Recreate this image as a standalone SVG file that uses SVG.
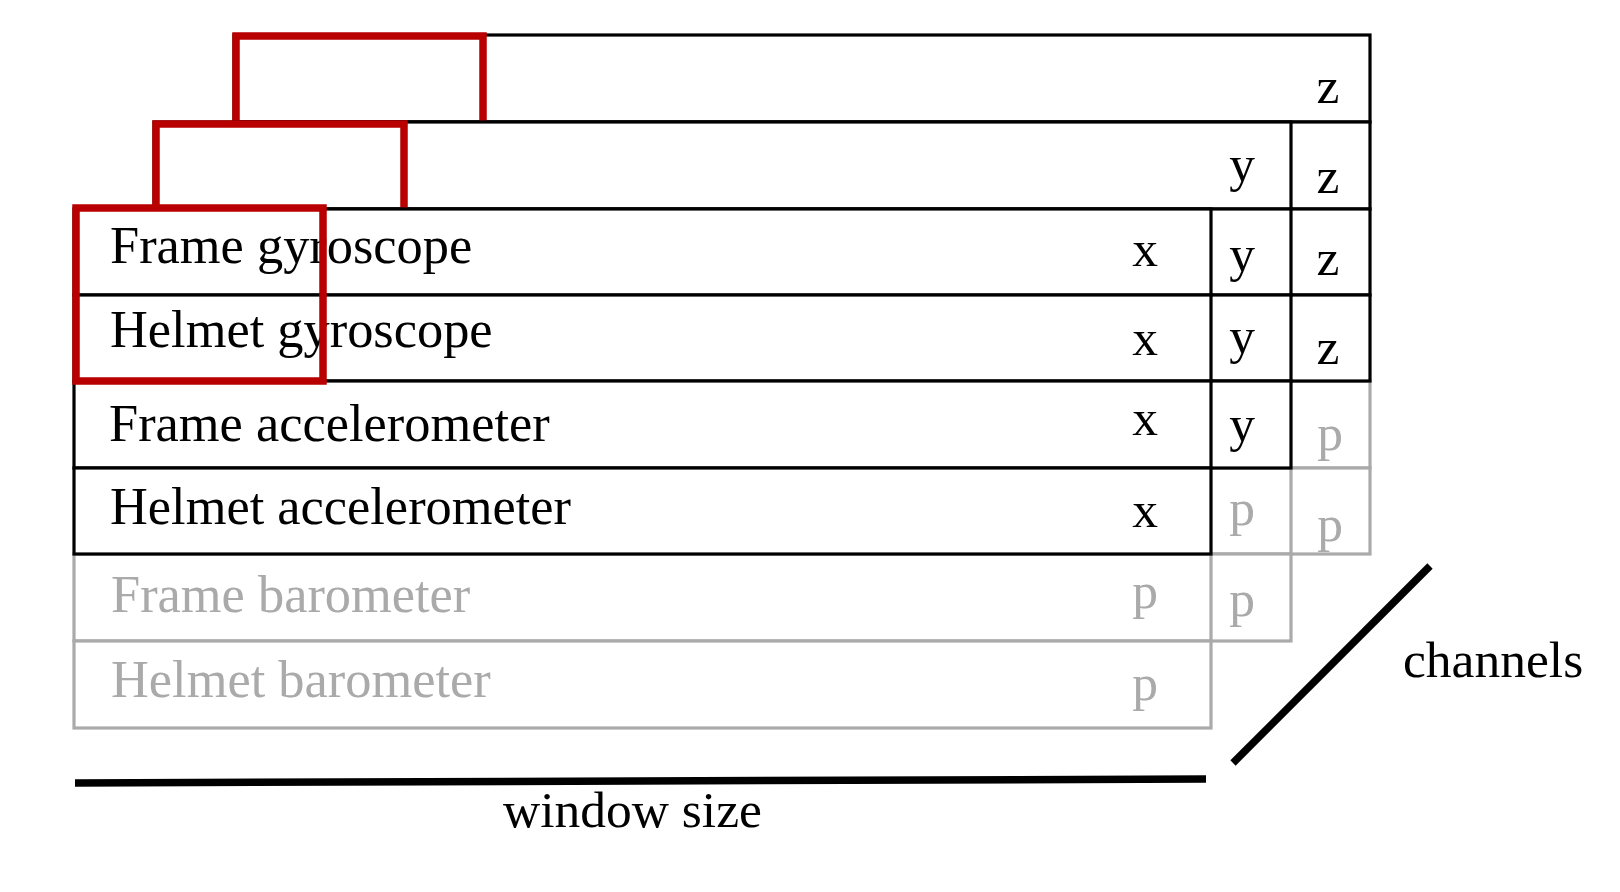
<svg xmlns="http://www.w3.org/2000/svg" width="1620" height="892" viewBox="0 0 1620 892">
<style>
  .cb { fill: #ffffff; stroke: #000000; stroke-width: 3.2; }
  .cg { fill: #ffffff; stroke: #aaaaaa; stroke-width: 3.2; }
  .sel { fill: none; stroke: #b80000; stroke-width: 7.5; }
  text { font-family: "Liberation Serif", "Times New Roman", serif; font-size: 51.5px; }
  .lbl { font-size: 52.4px; }
  .t { fill: #000000; }
  .tg { fill: #aaaaaa; }
  .c { text-anchor: middle; }
  .axis { stroke: #000000; stroke-width: 7.5; fill: none; }
</style>
<rect x="0" y="0" width="1620" height="892" fill="#ffffff"/>

<g id="layer-z">
  <rect class="cg" x="234" y="381" width="1136" height="87"/>
  <rect class="cg" x="234" y="468" width="1136" height="86"/>
  <rect class="cb" x="234" y="35" width="1136" height="87"/>
  <rect class="cb" x="234" y="122" width="1136" height="87"/>
  <rect class="cb" x="234" y="209" width="1136" height="86"/>
  <rect class="cb" x="234" y="295" width="1136" height="86"/>
  <text class="t c" x="1328" y="103">z</text>
  <text class="t c" x="1328" y="193">z</text>
  <text class="t c" x="1328" y="275">z</text>
  <text class="t c" x="1328" y="364">z</text>
  <text class="tg c" x="1330" y="450">p</text>
  <text class="tg c" x="1330" y="541">p</text>
  <rect class="sel" x="236" y="36" width="247" height="173"/>
</g>

<g id="layer-y">
  <rect class="cg" x="154" y="468" width="1137" height="86"/>
  <rect class="cg" x="154" y="554" width="1137" height="87"/>
  <rect class="cb" x="154" y="122" width="1137" height="87"/>
  <rect class="cb" x="154" y="209" width="1137" height="86"/>
  <rect class="cb" x="154" y="295" width="1137" height="86"/>
  <rect class="cb" x="154" y="381" width="1137" height="87"/>
  <text class="t c" x="1242" y="181">y</text>
  <text class="t c" x="1242" y="271">y</text>
  <text class="t c" x="1242" y="353">y</text>
  <text class="t c" x="1242" y="441">y</text>
  <text class="tg c" x="1242" y="525">p</text>
  <text class="tg c" x="1242" y="616">p</text>
  <rect class="sel" x="156" y="124" width="248" height="171"/>
</g>

<g id="layer-x">
  <g id="row-frame-barometer">
    <rect class="cg" x="74" y="554" width="1137" height="87"/>
    <text class="tg lbl" x="111" y="612">Frame barometer</text>
    <text class="tg c" x="1145" y="608">p</text>
  </g>
  <g id="row-helmet-barometer">
    <rect class="cg" x="74" y="641" width="1137" height="87"/>
    <text class="tg lbl" x="111" y="697">Helmet barometer</text>
    <text class="tg c" x="1145" y="700">p</text>
  </g>
  <g id="row-frame-gyroscope">
    <rect class="cb" x="74" y="209" width="1137" height="86"/>
    <text class="t lbl" x="110" y="263">Frame gyroscope</text>
    <text class="t c" x="1145" y="266">x</text>
  </g>
  <g id="row-helmet-gyroscope">
    <rect class="cb" x="74" y="295" width="1137" height="86"/>
    <text class="t lbl" x="110" y="347">Helmet gyroscope</text>
    <text class="t c" x="1145" y="355">x</text>
  </g>
  <g id="row-frame-accelerometer">
    <rect class="cb" x="74" y="381" width="1137" height="87"/>
    <text class="t lbl" x="109" y="441">Frame accelerometer</text>
    <text class="t c" x="1145" y="435">x</text>
  </g>
  <g id="row-helmet-accelerometer">
    <rect class="cb" x="74" y="468" width="1137" height="86"/>
    <text class="t lbl" x="110" y="524">Helmet accelerometer</text>
    <text class="t c" x="1145" y="527">x</text>
  </g>
  <rect class="sel" x="76" y="208" width="247" height="173"/>
</g>

<g id="connectors">
  <line class="axis" x1="75" y1="783" x2="1206" y2="779"/>
  <line class="axis" x1="1233" y1="763" x2="1430" y2="566"/>
</g>

<g id="axis-labels">
  <text class="t" x="503" y="827">window size</text>
  <text class="t" x="1403" y="677">channels</text>
</g>
</svg>
